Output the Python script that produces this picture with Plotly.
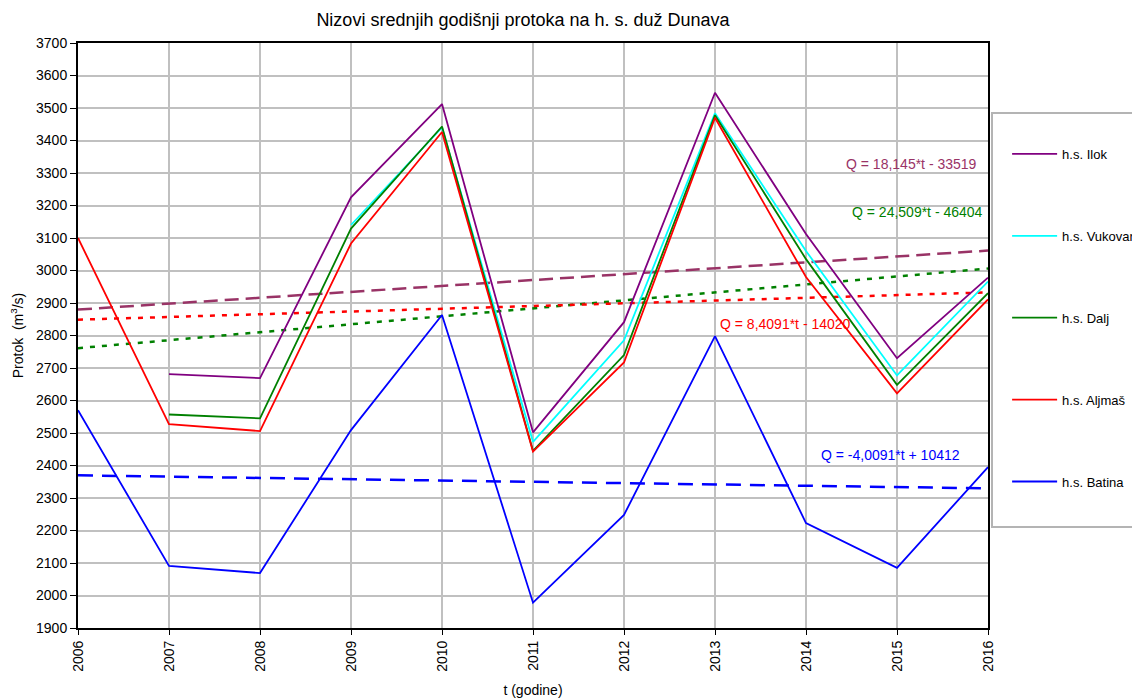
import plotly.graph_objects as go

years = [2006, 2007, 2008, 2009, 2010, 2011, 2012, 2013, 2014, 2015, 2016]

ilok    = [None, 2681, 2669, 3225, 3512, 2502, 2841, 3547, 3112, 2730, 2978]
vukovar = [None, None, None, 3140, 3440, 2473, 2785, 3484, 3060, 2677, 2966]
dalj    = [None, 2557, 2545, 3129, 3443, 2445, 2740, 3478, 3035, 2648, 2930]
aljmas  = [3100, 2527, 2506, 3083, 3426, 2443, 2717, 3470, 2980, 2622, 2911]
batina  = [2570, 2091, 2069, 2509, 2863, 1978, 2248, 2798, 2223, 2085, 2395]

series_names = ["h.s. Ilok", "h.s. Vukovar", "h.s. Dalj", "h.s. Aljmaš", "h.s. Batina"]
series_values = [ilok, vukovar, dalj, aljmas, batina]
series_colors = ["#800080", "#00FFFF", "#008000", "#FF0000", "#0000FF"]

# trend lines (Q = a*t + b)
trend_names = ["Ilok", "Dalj", "Aljmaš", "Batina"]
trend_slopes = [18.145, 24.509, 8.4091, -4.0091]
trend_intercepts = [-33519, -46404, -14020, 10412]
trend_labels = ["Q = 18,145*t - 33519", "Q = 24,509*t - 46404",
                "Q = 8,4091*t - 14020", "Q = -4,0091*t + 10412"]
trend_colors = ["#993366", "#008000", "#FF0000", "#0000FF"]
trend_dash = ["14px,7px", "5px,7px", "5px,7px", "15px,9px"]
trend_label_x = [2015.16, 2015.22, 2013.78, 2014.93]
trend_label_y = [3328, 3180, 2835, 2432]

FONT = "Liberation Sans, Arial, sans-serif"

# the page body adds an 8px offset; the figure is sized to fill the rest of the window
W, H = 1132, 690

fig = go.Figure()

for i, (a, b) in enumerate(zip(trend_slopes, trend_intercepts)):
    xs = [years[0], years[-1]]
    ys = [a * t + b for t in xs]
    fig.add_trace(go.Scatter(x=xs, y=ys, mode="lines", showlegend=False,
                             line=dict(color=trend_colors[i], width=2.5, dash=trend_dash[i]),
                             hoverinfo="skip"))

for name, vals, col in zip(series_names, series_values, series_colors):
    fig.add_trace(go.Scatter(x=years, y=vals, mode="lines", name=name,
                             legendgroup=name,
                             line=dict(color=col, width=1.8), connectgaps=False))

for i, txt in enumerate(trend_labels):
    fig.add_annotation(x=trend_label_x[i], y=trend_label_y[i], xref="x", yref="y",
                       text=txt, showarrow=False,
                       font=dict(family=FONT, size=14, color=trend_colors[i]))

# legend box
fig.add_shape(type="rect", xref="paper", yref="paper",
              x0=1.0044, x1=1.18, y0=0.1726, y1=0.8803,
              line=dict(color="#B4B4B4", width=2), fillcolor="rgba(0,0,0,0)")

fig.update_layout(
    width=W, height=H,
    margin=dict(l=70, r=152, t=35, b=70, autoexpand=False),
    paper_bgcolor="white", plot_bgcolor="white",
    font=dict(family=FONT, size=14, color="black"),
    title=dict(text="Nizovi srednjih godišnji protoka na h. s. duž Dunava",
               xref="container", x=515 / W, xanchor="center",
               yref="container", y=1 - 12 / H, yanchor="middle",
               font=dict(family=FONT, size=18, color="black")),
    legend=dict(x=1.021, y=0.836, xanchor="left", yanchor="top",
                bgcolor="rgba(0,0,0,0)", borderwidth=0,
                tracegroupgap=62, itemwidth=45,
                font=dict(family=FONT, size=13, color="black")),
    showlegend=True,
)

fig.update_xaxes(range=[2006, 2016], tickmode="array", tickvals=years,
                 ticktext=[str(y) for y in years], tickangle=-90,
                 showgrid=True, gridcolor="#C0C0C0", gridwidth=2,
                 showline=True, linecolor="black", linewidth=2, mirror=True,
                 ticks="outside", ticklen=5, tickcolor="black", zeroline=False,
                 title=dict(text="t (godine)", standoff=15,
                            font=dict(family=FONT, size=14)))
fig.update_yaxes(range=[1900, 3700], dtick=100, tick0=1900,
                 showgrid=True, gridcolor="#C0C0C0", gridwidth=2,
                 showline=True, linecolor="black", linewidth=2, mirror=True,
                 ticks="outside", ticklen=6, tickcolor="black", zeroline=False,
                 title=dict(text="Protok  (m<sup>3</sup>/s)", standoff=12,
                            font=dict(family=FONT, size=14)))

fig.write_html("out.html")
